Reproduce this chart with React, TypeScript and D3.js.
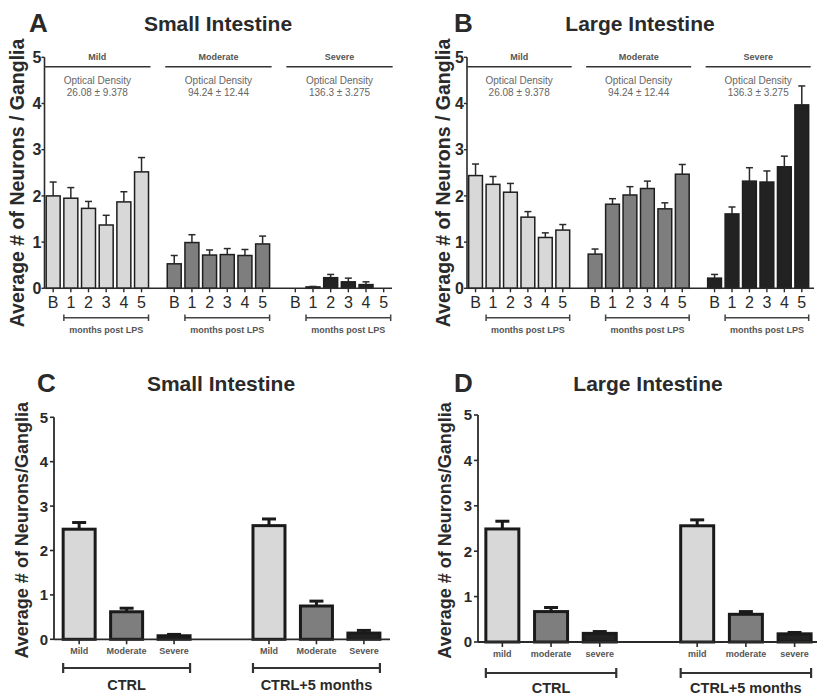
import React from 'react';
import * as d3 from 'd3';

// A / B: neurons per ganglion by severity group and time point
const timeLabels = ['B', '1', '2', '3', '4', '5'];
const severityGroups = ['Mild', 'Moderate', 'Severe'];
const opticalDensity = ['26.08 ± 9.378', '94.24 ± 12.44', '136.3 ± 3.275'];

const smallMeans = [
    [2.0, 1.95, 1.73, 1.37, 1.87, 2.52],
    [0.53, 0.99, 0.72, 0.73, 0.71, 0.96],
    [0, 0.03, 0.23, 0.14, 0.08, 0],
];
const smallSems = [
    [0.3, 0.23, 0.15, 0.21, 0.22, 0.31],
    [0.18, 0.17, 0.11, 0.13, 0.13, 0.17],
    [0, 0.01, 0.07, 0.08, 0.06, 0],
];
const largeMeans = [
    [2.44, 2.25, 2.08, 1.54, 1.1, 1.26],
    [0.74, 1.82, 2.02, 2.16, 1.72, 2.47],
    [0.22, 1.61, 2.32, 2.3, 2.63, 3.97],
];
const largeSems = [
    [0.25, 0.17, 0.19, 0.12, 0.1, 0.12],
    [0.11, 0.12, 0.18, 0.16, 0.13, 0.21],
    [0.08, 0.15, 0.29, 0.24, 0.23, 0.41],
];

// C / D: controls
const ctrlGroups = ['CTRL', 'CTRL+5 months'];
const smallCtrlLabels = ['Mild', 'Moderate', 'Severe'];
const largeCtrlLabels = ['mild', 'moderate', 'severe'];
const smallCtrlMeans = [[2.48, 0.62, 0.08], [2.56, 0.75, 0.14]];
const smallCtrlSems = [[0.15, 0.08, 0.03], [0.15, 0.11, 0.06]];
const largeCtrlMeans = [[2.49, 0.67, 0.19], [2.56, 0.61, 0.18]];
const largeCtrlSems = [[0.17, 0.09, 0.04], [0.13, 0.06, 0.03]];

const yTicks = [0, 1, 2, 3, 4, 5];
const fills = ['#d8d8d8', '#7e7e7e', '#222222'];
const FONT = "Arial, 'Liberation Sans', sans-serif";
const INK = '#2a2a2a';
const GROUP_GAP = 6.85;

const TimePanel = ({ letter, title, means, sems, left, right, domain, top, bottom, letterX, titleX, labelX }) => {
    const x = d3.scaleLinear().domain(domain).range([left, right]);
    const y = d3.scaleLinear().domain([0, 5]).range([bottom, top]);
    const step = x(1) - x(0);
    const bw = step * 0.79;
    const slot = (g, i) => g * GROUP_GAP + i;

    return (
        <g fontFamily={FONT}>
            <text x={letterX} y={32} fontSize={26} fontWeight="bold" fill={INK}>{letter}</text>
            <text x={titleX} y={31} fontSize={21} fontWeight="bold" fill={INK} textAnchor="middle">{title}</text>
            <text transform={`translate(${labelX},${183}) rotate(-90)`} fontSize={19.5}
                fontWeight="bold" fill={INK} textAnchor="middle">Average # of Neurons / Ganglia</text>

            <line x1={left} x2={left} y1={y(0)} y2={y(5)} stroke={INK} strokeWidth={1.6} />
            {yTicks.map(t => (
                <g key={t}>
                    <line x1={left - 3} x2={left} y1={y(t)} y2={y(t)} stroke={INK} strokeWidth={1.4} />
                    <text x={left - 3} y={y(t)} dy="0.36em" fontSize={16} fontWeight="bold" fill={INK} textAnchor="end">{t}</text>
                </g>
            ))}

            {severityGroups.map((grp, g) => {
                const gx0 = x(slot(g, 0)) - bw / 2 - 2;
                const gx1 = x(slot(g, 5)) + bw / 2 + 2;
                const bx0 = x(slot(g, 1)) - bw / 2;
                const bx1 = x(slot(g, 5)) + bw / 2;
                const cx = (gx0 + gx1) / 2;
                return (
                    <g key={grp}>
                        <text x={cx} y={60} fontSize={9} fontWeight="bold" fill="#555" textAnchor="middle">{grp}</text>
                        <line x1={gx0} x2={gx1} y1={66.7} y2={66.7} stroke="#333" strokeWidth={1.5} />
                        <text x={cx} y={84} fontSize={10} fill="#666" textAnchor="middle">Optical Density</text>
                        <text x={cx} y={96} fontSize={10} fill="#666" textAnchor="middle">{opticalDensity[g]}</text>

                        {means[g].map((m, i) => {
                            const cxb = x(slot(g, i));
                            const s = sems[g][i];
                            return (
                                <g key={i}>
                                    {m > 0 && (
                                        <rect x={cxb - bw / 2} y={y(m)} width={bw} height={y(0) - y(m)}
                                            fill={fills[g]} stroke="#1e1e1e" strokeWidth={1.5} />
                                    )}
                                    {s > 0 && (
                                        <g stroke="#2a2a2a" strokeWidth={1.5}>
                                            <line x1={cxb} x2={cxb} y1={y(m)} y2={y(m + s)} />
                                            <line x1={cxb - 3.5} x2={cxb + 3.5} y1={y(m + s)} y2={y(m + s)} />
                                        </g>
                                    )}
                                    <line x1={cxb} x2={cxb} y1={y(0)} y2={y(0) + 4} stroke={INK} strokeWidth={1.4} />
                                    <text x={cxb} y={y(0) + 19.5} fontSize={16} fill={INK} textAnchor="middle">{timeLabels[i]}</text>
                                </g>
                            );
                        })}

                        <g stroke="#444" strokeWidth={1.5}>
                            <line x1={bx0} x2={bx1} y1={317.7} y2={317.7} />
                            <line x1={bx0} x2={bx0} y1={314.5} y2={321} />
                            <line x1={bx1} x2={bx1} y1={314.5} y2={321} />
                        </g>
                        <text x={(bx0 + bx1) / 2} y={333} fontSize={9} fontWeight="bold" fill="#555" textAnchor="middle">months post LPS</text>
                    </g>
                );
            })}

            <line x1={left} x2={right} y1={y(0)} y2={y(0)} stroke={INK} strokeWidth={1.6} />
        </g>
    );
};

const CtrlPanel = ({ letter, title, labels, means, sems, left, right, domain, top, bottom, barW,
    letterX, titleX, labelX, catY, bracketY, groupY }) => {
    const x = d3.scaleLinear().domain(domain).range([left, right]);
    const y = d3.scaleLinear().domain([0, 5]).range([bottom, top]);
    const slot = (c, k) => c * 4 + k;

    return (
        <g fontFamily={FONT}>
            <text x={letterX} y={392} fontSize={26} fontWeight="bold" fill={INK}>{letter}</text>
            <text x={titleX} y={391} fontSize={21} fontWeight="bold" fill={INK} textAnchor="middle">{title}</text>
            <text transform={`translate(${labelX},${(top + bottom) / 2 + 2}) rotate(-90)`} fontSize={18}
                fontWeight="bold" fill={INK} textAnchor="middle">Average # of Neurons/Ganglia</text>

            <line x1={left} x2={left} y1={y(0)} y2={y(5)} stroke={INK} strokeWidth={1.8} />
            {yTicks.map(t => (
                <g key={t}>
                    <line x1={left - 4} x2={left} y1={y(t)} y2={y(t)} stroke={INK} strokeWidth={1.6} />
                    <text x={left - 6} y={y(t)} dy="0.36em" fontSize={15} fontWeight="bold" fill={INK} textAnchor="end">{t}</text>
                </g>
            ))}

            {ctrlGroups.map((grp, c) => {
                const bx0 = x(slot(c, 0)) - barW / 2;
                const bx1 = x(slot(c, 2)) + barW / 2;
                return (
                    <g key={grp}>
                        {means[c].map((m, k) => {
                            const cx = x(slot(c, k));
                            const s = sems[c][k];
                            return (
                                <g key={k}>
                                    <g stroke="#1a1a1a" strokeWidth={3}>
                                        <line x1={cx} x2={cx} y1={y(m)} y2={y(m + s)} />
                                        <line x1={cx - 7} x2={cx + 7} y1={y(m + s)} y2={y(m + s)} />
                                    </g>
                                    <rect x={cx - barW / 2} y={y(m)} width={barW} height={y(0) - y(m)}
                                        fill={fills[k]} stroke="#1a1a1a" strokeWidth={3} />
                                    <line x1={cx} x2={cx} y1={y(0)} y2={y(0) + 5} stroke={INK} strokeWidth={1.6} />
                                    <text x={cx} y={catY} fontSize={9} fontWeight="bold" fill="#555" textAnchor="middle">{labels[k]}</text>
                                </g>
                            );
                        })}
                        <g stroke="#333" strokeWidth={2.2}>
                            <line x1={bx0} x2={bx1} y1={bracketY} y2={bracketY} />
                            <line x1={bx0} x2={bx0} y1={bracketY - 5} y2={bracketY + 5} />
                            <line x1={bx1} x2={bx1} y1={bracketY - 5} y2={bracketY + 5} />
                        </g>
                        <text x={(bx0 + bx1) / 2} y={groupY} fontSize={14.5} fontWeight="bold" fill={INK} textAnchor="middle">{grp}</text>
                    </g>
                );
            })}

            <line x1={left} x2={right} y1={y(0)} y2={y(0)} stroke={INK} strokeWidth={1.8} />
        </g>
    );
};

const App = () => {
    return (
        <div style={{ position: 'absolute', left: 0, top: 0 }}>
            <svg width={817} height={698} style={{ display: 'block', background: '#fff' }}>
                <TimePanel letter="A" title="Small Intestine" means={smallMeans} sems={smallSems}
                    left={44.5} right={392} domain={[-0.49, 19.17]} top={57.3} bottom={288.3}
                    letterX={29} titleX={218} labelX={24} />
                <TimePanel letter="B" title="Large Intestine" means={largeMeans} sems={largeSems}
                    left={467} right={814} domain={[-0.49, 19.4]} top={57.3} bottom={288.3}
                    letterX={454} titleX={640} labelX={450} />
                <CtrlPanel letter="C" title="Small Intestine" labels={smallCtrlLabels}
                    means={smallCtrlMeans} sems={smallCtrlSems}
                    left={54} right={390} domain={[-0.53, 6.55]} top={417.3} bottom={639.3} barW={32}
                    letterX={37} titleX={221} labelX={28} catY={654} bracketY={668} groupY={690} />
                <CtrlPanel letter="D" title="Large Intestine" labels={largeCtrlLabels}
                    means={largeCtrlMeans} sems={largeCtrlSems}
                    left={478} right={817} domain={[-0.5, 6.46]} top={415} bottom={642} barW={33}
                    letterX={454} titleX={648} labelX={451} catY={657} bracketY={673} groupY={693} />
            </svg>
        </div>
    );
};

export default App;
